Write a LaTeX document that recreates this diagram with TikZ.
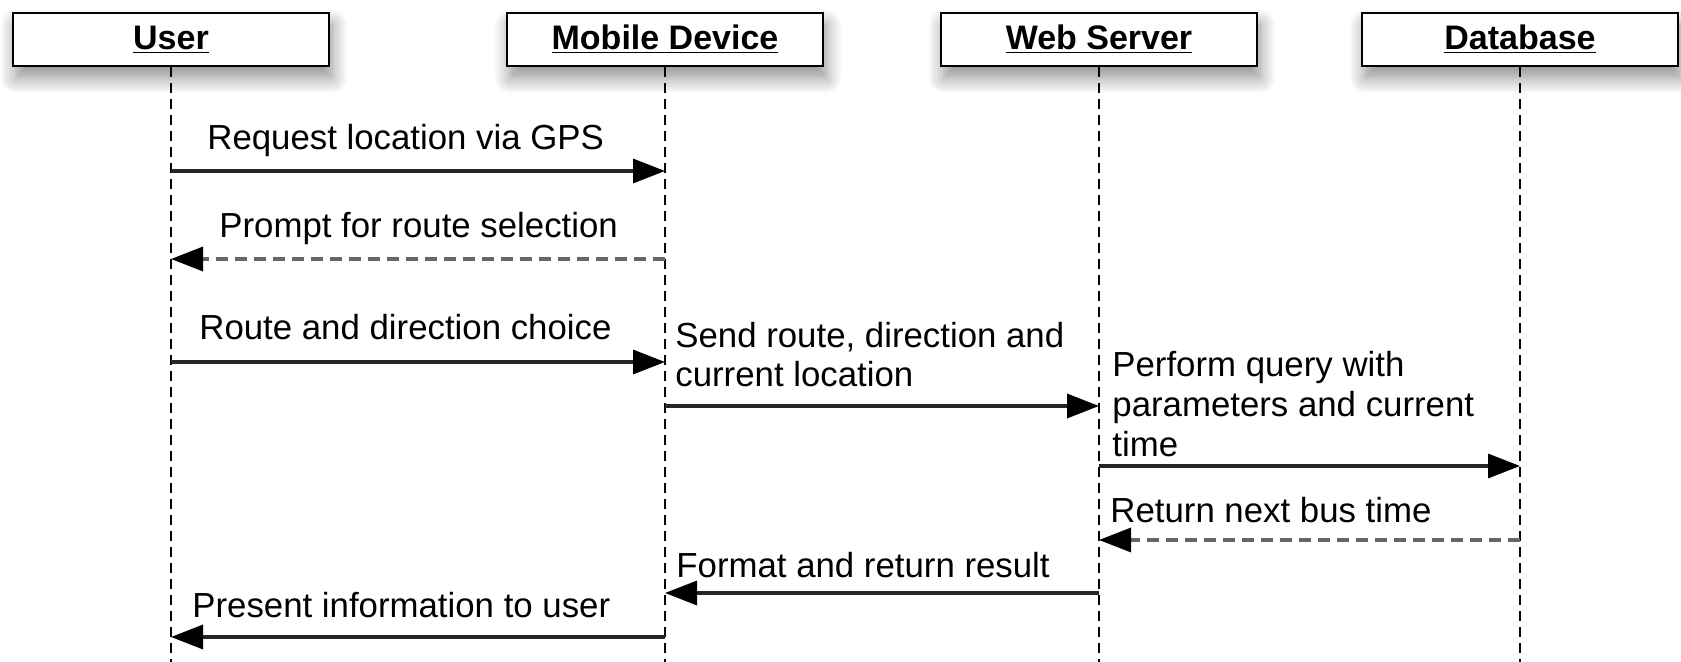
\documentclass[tikz,border=0pt]{standalone}
\usepackage{fontspec}
\setmainfont{Liberation Sans}
\usetikzlibrary{arrows.meta,shadows.blur}
\begin{document}
\begin{tikzpicture}[x=0.5pt,y=-0.5pt,
  font=\fontsize{17.4}{20}\selectfont,
  actor/.style={draw=black, line width=1.1pt, fill=white, minimum width=158pt,
    minimum height=26.5pt, inner sep=0pt, font=\fontsize{17}{20}\selectfont\bfseries,
    blur shadow={shadow xshift=1.5pt, shadow yshift=-6pt, shadow blur radius=8pt, shadow blur steps=12, shadow opacity=45}},
  life/.style={line width=1pt, dash pattern=on 5pt off 3pt},
  msg/.style={line width=1.7pt, draw=black!85, -{Triangle[length=16pt,width=12pt,black]}},
  ret/.style={msg, draw=black!60, dash pattern=on 6pt off 3.5pt},
  lbl/.style={anchor=base west, inner sep=0pt, align=left, text=black}]
\useasboundingbox (0,0) rectangle (1681,662);
% actors
\node[actor] (user) at (171,39.5) {\underline{User}};
\node[actor] (mob)  at (665,39.5) {\underline{Mobile Device}};
\node[actor] (web)  at (1099,39.5) {\underline{Web Server}};
\node[actor] (db)   at (1520,39.5) {\underline{Database}};
% lifeline ends
\coordinate (ue) at (171,662);
\coordinate (me) at (665,662);
\coordinate (we) at (1099,662);
\coordinate (de) at (1520,662);
\draw[life] (user.south) -- (ue);
\draw[life] (mob.south) -- (me);
\draw[life] (web.south) -- (we);
\draw[life] (db.south) -- (de);
% message points
\coordinate (u1) at (171,171); \coordinate (m1) at (665,171);
\coordinate (u2) at (171,259); \coordinate (m2) at (665,259);
\coordinate (u3) at (171,362); \coordinate (m3) at (665,362);
\coordinate (m4) at (665,406); \coordinate (w4) at (1099,406);
\coordinate (w5) at (1099,466); \coordinate (d5) at (1520,466);
\coordinate (w6) at (1099,540); \coordinate (d6) at (1520,540);
\coordinate (w7) at (1099,593); \coordinate (m7) at (665,593);
\coordinate (m8) at (665,637); \coordinate (u8) at (171,637);
% messages
\draw[msg] (u1) -- (m1);
\draw[ret] (m2) -- (u2);
\draw[msg] (u3) -- (m3);
\draw[msg] (m4) -- (w4);
\draw[msg] (w5) -- (d5);
\draw[ret] (d6) -- (w6);
\draw[msg] (w7) -- (m7);
\draw[msg] (m8) -- (u8);
% labels (base = baseline of last line)
\node[lbl] (l1) at (207,150) {Request location via GPS};
\node[lbl] (l2) at (219,238) {Prompt for route selection};
\node[lbl] (l3) at (199,340) {Route and direction choice};
\node[lbl] (l4) at (675,387) {Send route, direction and\\current location};
\node[lbl] (l5) at (1112,457) {Perform query with\\parameters and current\\time};
\node[lbl] (l6) at (1110,522) {Return next bus time};
\node[lbl] (l7) at (676,577) {Format and return result};
\node[lbl] (l8) at (192,617) {Present information to user};
\end{tikzpicture}
\end{document}
